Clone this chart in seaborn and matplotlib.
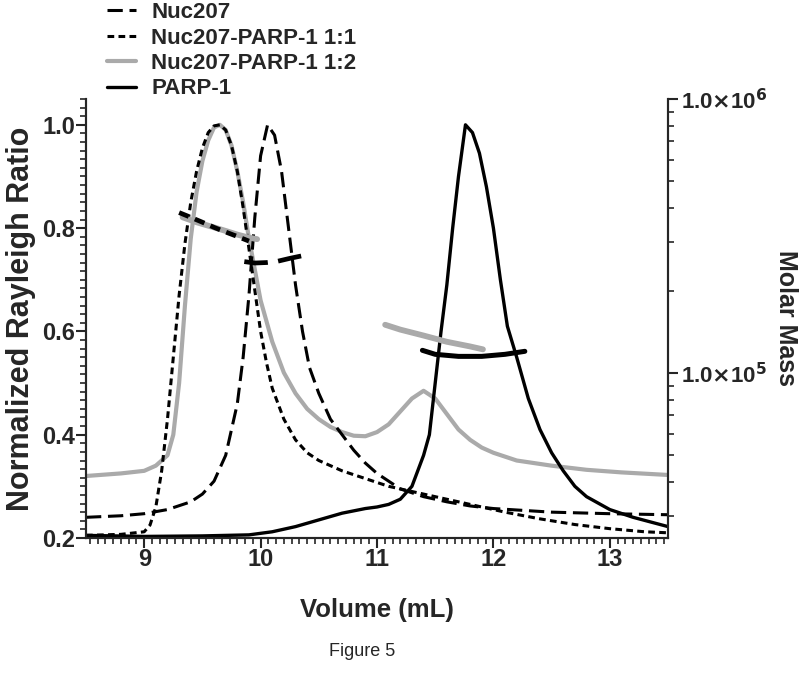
import numpy as np
import pandas as pd
import matplotlib
matplotlib.use("Agg")
import matplotlib.pyplot as plt
from matplotlib.ticker import MultipleLocator, FixedLocator, FixedFormatter, LogLocator, NullFormatter
from matplotlib.lines import Line2D
import seaborn as sns

sns.set_style("ticks")
plt.rcParams['font.family'] = ['Liberation Sans', 'DejaVu Sans']
plt.rcParams['font.weight'] = 'bold'

### Rayleigh ratio traces (left axis)
x_nuc = [8.5, 8.8, 9.0, 9.2, 9.4, 9.5, 9.6, 9.7, 9.8, 9.85, 9.9, 9.95, 10.0, 10.06, 10.12, 10.18,
         10.24, 10.3, 10.36, 10.42, 10.5, 10.6, 10.7, 10.8, 10.9, 11.0, 11.2, 11.4, 11.6, 11.8,
         12.0, 12.5, 13.0, 13.5]
y_nuc = [0.24, 0.243, 0.247, 0.255, 0.27, 0.285, 0.31, 0.36, 0.46, 0.55, 0.67, 0.82, 0.94, 1.0,
         0.98, 0.91, 0.8, 0.69, 0.6, 0.53, 0.48, 0.43, 0.4, 0.37, 0.345, 0.325, 0.295, 0.28,
         0.27, 0.262, 0.257, 0.25, 0.247, 0.245]

x_11 = [8.5, 8.8, 9.0, 9.05, 9.1, 9.15, 9.2, 9.25, 9.3, 9.35, 9.4, 9.45, 9.5, 9.55, 9.6, 9.65,
        9.7, 9.75, 9.8, 9.85, 9.9, 9.95, 10.0, 10.05, 10.1, 10.2, 10.3, 10.4, 10.5, 10.7, 10.9,
        11.1, 11.3, 11.5, 11.8, 12.1, 12.4, 12.7, 13.0, 13.3, 13.5]
y_11 = [0.205, 0.207, 0.212, 0.225, 0.26, 0.33, 0.43, 0.55, 0.67, 0.77, 0.85, 0.91, 0.955, 0.985,
        0.998, 1.0, 0.99, 0.96, 0.91, 0.84, 0.76, 0.68, 0.6, 0.54, 0.49, 0.43, 0.39, 0.365, 0.35,
        0.33, 0.315, 0.3, 0.29, 0.28, 0.265, 0.25, 0.237, 0.226, 0.218, 0.212, 0.21]

x_12 = [8.5, 8.8, 9.0, 9.1, 9.2, 9.25, 9.3, 9.35, 9.4, 9.45, 9.5, 9.55, 9.6, 9.65, 9.7, 9.75,
        9.8, 9.85, 9.9, 9.95, 10.0, 10.1, 10.2, 10.3, 10.4, 10.5, 10.6, 10.7, 10.8, 10.9, 11.0,
        11.1, 11.2, 11.3, 11.4, 11.5, 11.6, 11.7, 11.8, 11.9, 12.0, 12.2, 12.5, 12.8, 13.1, 13.5]
y_12 = [0.32, 0.325, 0.33, 0.34, 0.36, 0.4, 0.5, 0.65, 0.78, 0.87, 0.93, 0.97, 0.995, 1.0, 0.99,
        0.96, 0.91, 0.85, 0.78, 0.72, 0.66, 0.58, 0.52, 0.48, 0.45, 0.43, 0.415, 0.405, 0.398,
        0.397, 0.405, 0.42, 0.445, 0.47, 0.485, 0.47, 0.44, 0.41, 0.39, 0.375, 0.365, 0.35, 0.34,
        0.332, 0.327, 0.322]

x_parp = [8.5, 9.0, 9.5, 9.9, 10.1, 10.3, 10.5, 10.7, 10.9, 11.0, 11.1, 11.2, 11.3, 11.35, 11.4,
          11.45, 11.5, 11.55, 11.6, 11.65, 11.7, 11.76, 11.82, 11.88, 11.94, 12.0, 12.06, 12.12,
          12.2, 12.3, 12.4, 12.5, 12.6, 12.7, 12.8, 13.0, 13.2, 13.5]
y_parp = [0.205, 0.203, 0.204, 0.206, 0.212, 0.222, 0.235, 0.248, 0.257, 0.26, 0.265, 0.275,
          0.3, 0.33, 0.36, 0.4, 0.5, 0.6, 0.69, 0.8, 0.9, 1.0, 0.985, 0.945, 0.88, 0.8, 0.7,
          0.61, 0.55, 0.47, 0.41, 0.365, 0.33, 0.3, 0.28, 0.255, 0.24, 0.222]

### Molar mass segments (right axis)
mx_nuc = [9.86, 9.95, 10.05, 10.15, 10.25, 10.36]
mm_nuc = [255e3, 252e3, 253e3, 256e3, 262e3, 268e3]
mx_11 = [9.3, 9.4, 9.5, 9.6, 9.7, 9.8, 9.9]
mm_11 = [385e3, 370e3, 355e3, 340e3, 327e3, 315e3, 303e3]
mx_12a = [9.33, 9.45, 9.6, 9.7, 9.8, 9.9, 9.97]
mm_12a = [370e3, 355e3, 340e3, 330e3, 320e3, 312e3, 308e3]
mx_12b = [11.07, 11.2, 11.4, 11.6, 11.8, 11.91]
mm_12b = [150e3, 144e3, 137e3, 130e3, 125e3, 122e3]
mx_parp = [11.39, 11.5, 11.7, 11.9, 12.1, 12.27]
mm_parp = [121e3, 117e3, 115e3, 115e3, 117e3, 120e3]

labels = ['Nuc207', 'Nuc207-PARP-1 1:1', 'Nuc207-PARP-1 1:2', 'PARP-1']
styles = {
    'Nuc207': dict(color='black', lw=2.2, dashes=(5, 2.2)),
    'Nuc207-PARP-1 1:1': dict(color='black', lw=2.2, dashes=(2.2, 1.4)),
    'Nuc207-PARP-1 1:2': dict(color='#aaaaaa', lw=3.0),
    'PARP-1': dict(color='black', lw=2.4),
}

fig = plt.figure(figsize=(8.06, 6.89), dpi=100)
ax = fig.add_axes([0.1067, 0.2192, 0.7221, 0.6371])
ax2 = ax.twinx()

traces = {'Nuc207': (x_nuc, y_nuc), 'Nuc207-PARP-1 1:1': (x_11, y_11),
          'Nuc207-PARP-1 1:2': (x_12, y_12), 'PARP-1': (x_parp, y_parp)}
for name in ['Nuc207-PARP-1 1:2', 'PARP-1', 'Nuc207', 'Nuc207-PARP-1 1:1']:
    xx, yy = traces[name]
    st = styles[name]
    l = sns.lineplot(x=xx, y=yy, ax=ax, color=st['color'], lw=st['lw'], sort=False)
    if 'dashes' in st:
        l.lines[-1].set_dashes(st['dashes'])

masses = [('Nuc207-PARP-1 1:2', mx_12a, mm_12a), ('Nuc207-PARP-1 1:2', mx_12b, mm_12b),
          ('PARP-1', mx_parp, mm_parp), ('Nuc207', mx_nuc, mm_nuc),
          ('Nuc207-PARP-1 1:1', mx_11, mm_11)]
for name, xx, mm in masses:
    st = styles[name]
    l = sns.lineplot(x=xx, y=mm, ax=ax2, color=st['color'], lw=st['lw'] + 1.2, sort=False)
    if 'dashes' in st:
        l.lines[-1].set_dashes(st['dashes'])

ax.set_xlim(8.5, 13.5)
ax.set_ylim(0.2, 1.05)
ax.xaxis.set_major_locator(FixedLocator([9, 10, 11, 12, 13]))
ax.xaxis.set_minor_locator(MultipleLocator(1 / 15))
ax.yaxis.set_major_locator(FixedLocator([0.2, 0.4, 0.6, 0.8, 1.0]))
ax.yaxis.set_minor_locator(MultipleLocator(1 / 60))
ax.yaxis.set_major_formatter(FixedFormatter(['0.2', '0.4', '0.6', '0.8', '1.0']))

ax2.set_yscale('log')
ax2.set_ylim(2.5e4, 1e6)
ax2.yaxis.set_major_locator(FixedLocator([1e5, 1e6]))
ax2.yaxis.set_major_formatter(FixedFormatter([r'1.0$\times$10$^{5}$', r'1.0$\times$10$^{6}$']))
ax2.yaxis.set_minor_locator(LogLocator(base=10, subs=np.arange(2, 10)))
ax2.yaxis.set_minor_formatter(NullFormatter())

for a in (ax, ax2):
    a.spines['top'].set_visible(False)
    for s in ['left', 'right', 'bottom']:
        a.spines[s].set_linewidth(1.5)
    a.tick_params(which='major', direction='out', length=7, width=1.5, labelsize=17, pad=1)
    a.tick_params(which='minor', direction='out', length=4, width=1.2)
ax.tick_params(axis='x', which='major', pad=0)
ax2.tick_params(which='major', labelsize=16, pad=2)

ax.set_xlabel('Volume (mL)', fontsize=18.5, fontweight='bold', labelpad=20)
ax.set_ylabel('Normalized Rayleigh Ratio', fontsize=22, fontweight='bold', labelpad=4)
ax2.set_ylabel('Molar Mass', fontsize=18, fontweight='bold', rotation=-90, labelpad=22)

handles = [Line2D([0], [0], **{k: v for k, v in styles[n].items()}) for n in labels]
fig.legend(handles, labels, loc='upper left', bbox_to_anchor=(0.108, 1.026), frameon=False,
           handlelength=1.3, handletextpad=0.7, labelspacing=0.2,
           prop={'weight': 'bold', 'size': 16})

fig.text(0.449, 0.055, 'Figure 5', ha='center', va='center', fontsize=13, fontweight='normal')

fig.savefig('out.png', dpi=100)
